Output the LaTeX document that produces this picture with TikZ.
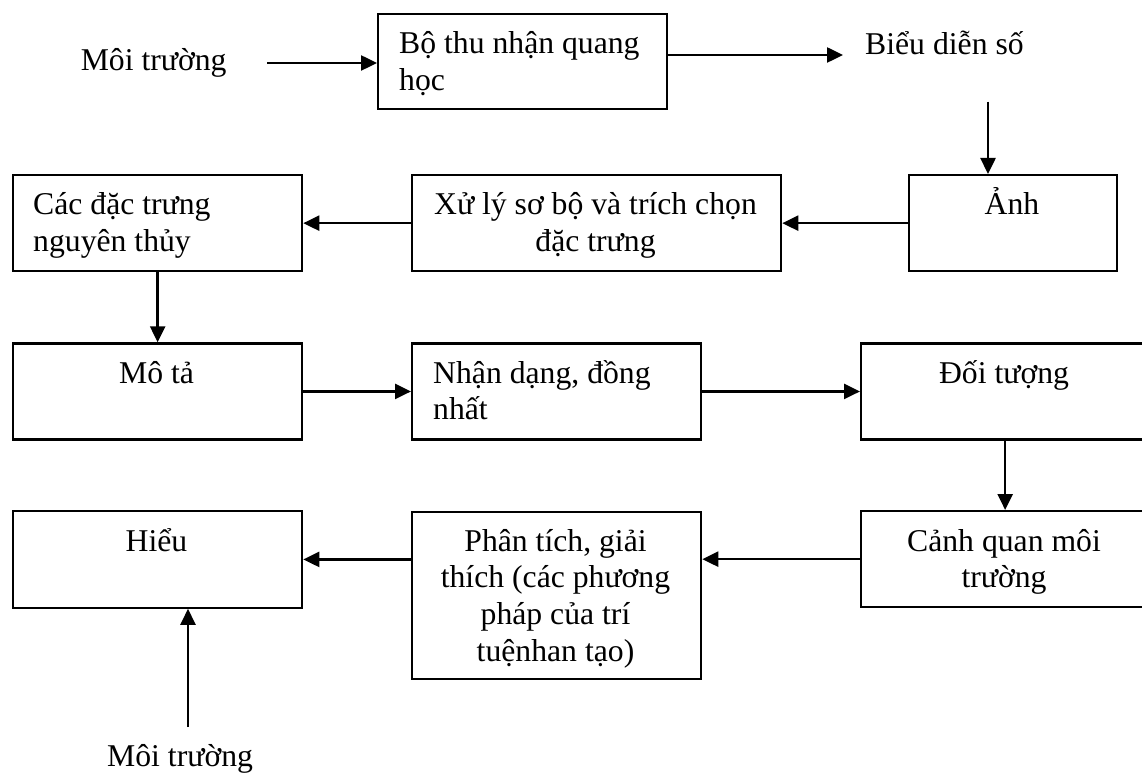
\documentclass[tikz,border=0pt]{standalone}
\usepackage{fontspec}
\setmainfont{Liberation Serif}
\usetikzlibrary{arrows.meta}

\begin{document}
\begin{tikzpicture}[x=1pt, y=-1pt,
  every node/.style={font=\fontsize{31.7}{36.8}\selectfont},
  stage/.style={draw, line width=2.3pt, rectangle, inner sep=0pt, anchor=north west},
  txt/.style={inner sep=0pt, anchor=base},
  txtl/.style={inner sep=0pt, anchor=base west},
  arr/.style={line width=2.5pt, -{Triangle[length=16pt,width=15pt]}}
]
% page frame
\path[use as bounding box, fill=white] (0,0) rectangle (1142,775);
\clip (0,0) rectangle (1142,775);

% boxes
\node[stage, minimum width=289pt, minimum height=95.3pt] (b1) at (377,12.7) {};
\node[stage, minimum width=369pt, minimum height=96pt] (b2) at (411,174) {};
\node[stage, minimum width=208pt, minimum height=96pt] (b3) at (908,174) {};
\node[stage, minimum width=289pt, minimum height=96pt] (c) at (12,174) {};
\node[stage, minimum width=289pt, minimum height=96pt] (m) at (12,342.3) {};
\node[stage, minimum width=289pt, minimum height=96pt] (n) at (411,342.3) {};
\node[stage, minimum width=288pt, minimum height=96pt] (d) at (860,342.3) {};
\node[stage, minimum width=288pt, minimum height=96pt] (k) at (860,510) {};
\node[stage, minimum width=289pt, minimum height=167.5pt] (p) at (411,510.5) {};
\node[stage, minimum width=289pt, minimum height=96.5pt] (h) at (12,510) {};

% box texts
\node[txtl] (tb1) at (399,53.3) {\parbox[t]{250pt}{\raggedright Bộ thu nhận quang\\học}};
\node[txt] (tb2) at (595.5,214.5) {\parbox[t]{360pt}{\centering Xử lý sơ bộ và trích chọn\\đặc trưng}};
\node[txt] (tb3) at (1012,214.5) {Ảnh};
\node[txtl] (tc) at (33,214.5) {\parbox[t]{260pt}{\raggedright Các đặc trưng\\nguyên thủy}};
\node[txt] (tm) at (156.5,383) {Mô tả};
\node[txtl] (tn) at (433,383) {\parbox[t]{260pt}{\raggedright Nhận dạng, đồng\\nhất}};
\node[txt] (td) at (1004,383) {Đối tượng};
\node[txt] (tk) at (1004,551) {\parbox[t]{270pt}{\centering Cảnh quan môi\\trường}};
\node[txt] (tp) at (555.5,551) {\parbox[t]{280pt}{\centering Phân tích, giải\\thích (các phương\\pháp của trí\\tuệnhan tạo)}};
\node[txt] (th) at (156.5,551) {Hiểu};

% free labels
\node[txtl] (env1) at (80.6,71) {Môi trường};
\node[txtl] (dig) at (865,55) {Biểu diễn số};
\node[txtl] (env2) at (107,766.7) {Môi trường};

% free arrow ends
\coordinate (a1s) at (267,63);
\coordinate (a2e) at (843,55);
\coordinate (a3s) at (988,101.7);
\coordinate (a12s) at (188,727);

% connectors
\draw[arr] (a1s) -- (a1s -| b1.west);
\draw[arr] (b1.east |- a2e) -- (a2e);
\draw[arr] (a3s) -- (a3s |- b3.north);
\draw[arr] (b3.west) -- (b2.east);
\draw[arr] (b2.west) -- (c.east);
\draw[arr] (c.south) -- (m.north);
\draw[arr] (m.east) -- (n.west);
\draw[arr] (n.east) -- (d.west);
\draw[arr] (d.south) -- (k.north);
\draw[arr] (k.west) -- (k.west -| p.east);
\draw[arr] (h.east -| p.west) -- (h.east);
\draw[arr] (a12s) -- (a12s |- h.south);
\end{tikzpicture}
\end{document}
